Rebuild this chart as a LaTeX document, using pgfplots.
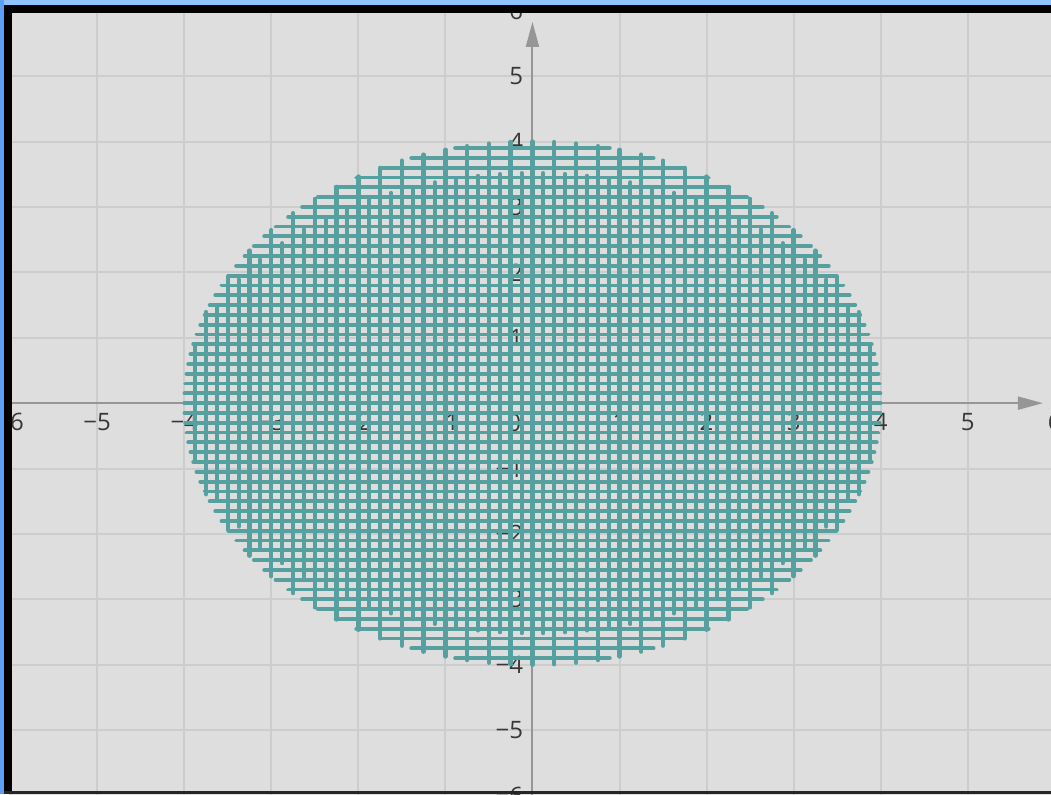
\documentclass[border=0pt]{standalone}
\usepackage{pgfplots}
\pgfplotsset{compat=1.18}
\usepackage{pgfplotstable}
\usetikzlibrary{arrows.meta}
\usepackage{fontspec}
\setmainfont{Open Sans}
\definecolor{bggray}{RGB}{222,222,222}
\definecolor{gridgray}{RGB}{205,205,205}
\definecolor{labgray}{RGB}{55,55,55}
\definecolor{axisgray}{RGB}{150,150,150}
\definecolor{hatch}{RGB}{86,161,159}
\definecolor{topblue}{RGB}{140,196,255}
\definecolor{leftblue}{RGB}{95,158,245}

% vertical chords, every 0.25 (full length)
\pgfplotstableread{
v h nh
-3.75 1.39194 -1.39194
-3.5 1.93649 -1.93649
-3.25 2.33184 -2.33184
-3.0 2.64575 -2.64575
-2.75 2.90474 -2.90474
-2.5 3.12250 -3.12250
-2.25 3.30719 -3.30719
-2.0 3.46410 -3.46410
-1.75 3.59687 -3.59687
-1.5 3.70810 -3.70810
-1.25 3.79967 -3.79967
-1.0 3.87298 -3.87298
-0.75 3.92906 -3.92906
-0.5 3.96863 -3.96863
-0.25 3.99218 -3.99218
0 4 -4
0.25 3.99218 -3.99218
0.5 3.96863 -3.96863
0.75 3.92906 -3.92906
1.0 3.87298 -3.87298
1.25 3.79967 -3.79967
1.5 3.70810 -3.70810
1.75 3.59687 -3.59687
2.0 3.46410 -3.46410
2.25 3.30719 -3.30719
2.5 3.12250 -3.12250
2.75 2.90474 -2.90474
3.0 2.64575 -2.64575
3.25 2.33184 -2.33184
3.5 1.93649 -1.93649
3.75 1.39194 -1.39194
}\vfull

% vertical chords in between (shorter)
\pgfplotstableread{
v h nh
-3.875 0.87310 -0.87310
-3.625 1.48805 -1.48805
-3.375 1.88932 -1.88932
-3.125 2.19725 -2.19725
-2.875 2.44735 -2.44735
-2.625 2.65600 -2.65600
-2.375 2.83237 -2.83237
-2.125 2.98220 -2.98220
-1.875 3.10933 -3.10933
-1.625 3.21644 -3.21644
-1.375 3.30550 -3.30550
-1.125 3.37792 -3.37792
-0.875 3.43475 -3.43475
-0.625 3.47677 -3.47677
-0.375 3.50449 -3.50449
-0.125 3.51828 -3.51828
0.125 3.51828 -3.51828
0.375 3.50449 -3.50449
0.625 3.47677 -3.47677
0.875 3.43475 -3.43475
1.125 3.37792 -3.37792
1.375 3.30550 -3.30550
1.625 3.21644 -3.21644
1.875 3.10933 -3.10933
2.125 2.98220 -2.98220
2.375 2.83237 -2.83237
2.625 2.65600 -2.65600
2.875 2.44735 -2.44735
3.125 2.19725 -2.19725
3.375 1.88932 -1.88932
3.625 1.48805 -1.48805
3.875 0.87310 -0.87310
}\vhalf

% horizontal chords, every 0.15
\pgfplotstableread{
v h nh
-3.90 0.88882 -0.88882
-3.75 1.39194 -1.39194
-3.60 1.74356 -1.74356
-3.45 2.02423 -2.02423
-3.30 2.26053 -2.26053
-3.15 2.46526 -2.46526
-3.00 2.64575 -2.64575
-2.85 2.80669 -2.80669
-2.70 2.95127 -2.95127
-2.55 3.08180 -3.08180
-2.40 3.20000 -3.20000
-2.25 3.30719 -3.30719
-2.10 3.40441 -3.40441
-1.95 3.49249 -3.49249
-1.80 3.57211 -3.57211
-1.65 3.64383 -3.64383
-1.50 3.70810 -3.70810
-1.35 3.76530 -3.76530
-1.20 3.81576 -3.81576
-1.05 3.85973 -3.85973
-0.90 3.89744 -3.89744
-0.75 3.92906 -3.92906
-0.60 3.95474 -3.95474
-0.45 3.97461 -3.97461
-0.30 3.98873 -3.98873
-0.15 3.99719 -3.99719
0 4 -4
0.15 3.99719 -3.99719
0.30 3.98873 -3.98873
0.45 3.97461 -3.97461
0.60 3.95474 -3.95474
0.75 3.92906 -3.92906
0.90 3.89744 -3.89744
1.05 3.85973 -3.85973
1.20 3.81576 -3.81576
1.35 3.76530 -3.76530
1.50 3.70810 -3.70810
1.65 3.64383 -3.64383
1.80 3.57211 -3.57211
1.95 3.49249 -3.49249
2.10 3.40441 -3.40441
2.25 3.30719 -3.30719
2.40 3.20000 -3.20000
2.55 3.08180 -3.08180
2.70 2.95127 -2.95127
2.85 2.80669 -2.80669
3.00 2.64575 -2.64575
3.15 2.46526 -2.46526
3.30 2.26053 -2.26053
3.45 2.02423 -2.02423
3.60 1.74356 -1.74356
3.75 1.39194 -1.39194
3.90 0.88882 -0.88882
}\hrows

\begin{document}
\begin{tikzpicture}
\begin{axis}[
  set layers,
  scale only axis, width=523.2pt, height=393.05pt,
  at={(4.63pt,-1.1pt)}, anchor=south west,
  xmin=-6.01, xmax=6.01, ymin=-6.01, ymax=6.01,
  axis lines=middle, axis line style={draw=none},
  xtick={-6,-5,-4,-3,-2,-1,1,2,3,4,5,6},
  xticklabels={−6,−5,−4,−3,−2,−1,1,2,3,4,5,6},
  ytick={-6,-5,-4,-3,-2,-1,1,2,3,4,5,6},
  yticklabels={−6,−5,−4,−3,−2,−1,1,2,3,4,5,6},
  major tick length=0pt,
  grid=major, grid style={gridgray, line width=1pt},
  axis background/.style={fill=bggray},
  tick label style={font=\fontsize{12}{14}\selectfont, text=labgray, inner sep=0pt},
  xticklabel style={anchor=north, yshift=-5pt},
  yticklabel style={anchor=east, xshift=-4.5pt},
]
\node[anchor=north east, inner sep=0pt, font=\fontsize{12}{14}\selectfont, text=labgray, xshift=-5.5pt, yshift=-5.5pt] at (axis cs:0,0) {0};
\draw[axisgray, line width=1pt, -{Triangle[length=12.5pt,width=6.5pt]}] (axis cs:-6.2,0) -- (axis cs:5.864,0);
\draw[axisgray, line width=1pt, -{Triangle[length=12.5pt,width=6.5pt]}] (axis cs:0,-6.2) -- (axis cs:0,5.83);
\addplot[ycomb, hatch, line width=2.2pt, line cap=round, mark=none] table[x=v, y=h] {\vfull};
\addplot[ycomb, hatch, line width=2.2pt, line cap=round, mark=none] table[x=v, y=nh] {\vfull};
\addplot[ycomb, hatch, line width=2pt, line cap=round, mark=none] table[x=v, y=h] {\vhalf};
\addplot[ycomb, hatch, line width=2pt, line cap=round, mark=none] table[x=v, y=nh] {\vhalf};
\addplot[xcomb, hatch, line width=1.9pt, line cap=round, mark=none] table[x=h, y=v] {\hrows};
\addplot[xcomb, hatch, line width=1.9pt, line cap=round, mark=none] table[x=nh, y=v] {\hrows};
\end{axis}
\fill[topblue] (0,394.5pt) rectangle (525.5pt,397pt);
\fill[black] (2pt,390.5pt) rectangle (525.5pt,394.5pt);
\fill[leftblue] (0,0) rectangle (2pt,397pt);
\fill[black] (2pt,0) rectangle (6pt,394.5pt);
\fill[black!85] (2pt,0) rectangle (525.5pt,1.5pt);
\pgfresetboundingbox
\path[use as bounding box] (0,0) rectangle (525.5pt,397pt);
\end{tikzpicture}
\end{document}
